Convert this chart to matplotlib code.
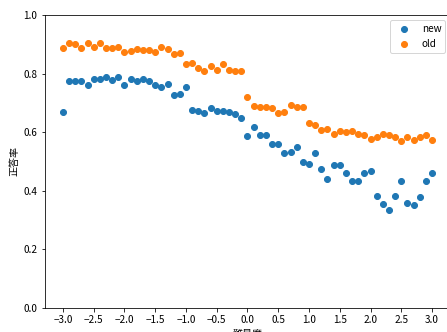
import matplotlib
matplotlib.use("Agg")
import matplotlib.pyplot as plt
import numpy as np

plt.rcParams['font.family'] = ['Noto Sans CJK JP', 'DejaVu Sans']

# difficulty values from -3.0 to 3.0 in steps of 0.1
difficulty = np.round(np.arange(-30, 31) / 10, 1)

new_rate = [
    0.669, 0.774, 0.774, 0.774, 0.760, 0.783, 0.783, 0.787, 0.778, 0.787,
    0.760, 0.783, 0.774, 0.783, 0.774, 0.760, 0.755, 0.765, 0.727, 0.730,
    0.755, 0.677, 0.674, 0.664, 0.681, 0.672, 0.672, 0.669, 0.661, 0.648,
    0.586, 0.619, 0.589, 0.589, 0.561, 0.561, 0.528, 0.531, 0.548, 0.499,
    0.491, 0.528, 0.474, 0.441, 0.487, 0.487, 0.462, 0.433, 0.433, 0.462,
    0.466, 0.383, 0.354, 0.334, 0.383, 0.433, 0.358, 0.350, 0.379, 0.433,
    0.462,
]

old_rate = [
    0.886, 0.903, 0.900, 0.886, 0.903, 0.891, 0.903, 0.886, 0.886, 0.891,
    0.875, 0.878, 0.883, 0.880, 0.880, 0.875, 0.892, 0.883, 0.867, 0.871,
    0.833, 0.837, 0.820, 0.809, 0.825, 0.812, 0.834, 0.813, 0.809, 0.809,
    0.719, 0.689, 0.687, 0.685, 0.681, 0.664, 0.668, 0.694, 0.687, 0.687,
    0.631, 0.623, 0.607, 0.611, 0.594, 0.603, 0.600, 0.604, 0.594, 0.590,
    0.578, 0.583, 0.595, 0.592, 0.583, 0.569, 0.583, 0.573, 0.583, 0.590,
    0.574,
]

fig = plt.figure(figsize=(447 / 72, 332 / 72), dpi=72)
# axes run slightly past the right edge, as in the original crop
ax = fig.add_axes([44.5 / 447, 24 / 332, 406 / 447, 293 / 332])

ax.scatter(difficulty, new_rate, label='new')
ax.scatter(difficulty, old_rate, label='old')

ax.set_ylim(0, 1.0)
ax.set_xticks(np.arange(-3.0, 3.01, 0.5))
ax.set_xlabel('難易度')
ax.set_ylabel('正答率')
ax.legend(loc='upper right')

fig.savefig('out.png', dpi=72)
